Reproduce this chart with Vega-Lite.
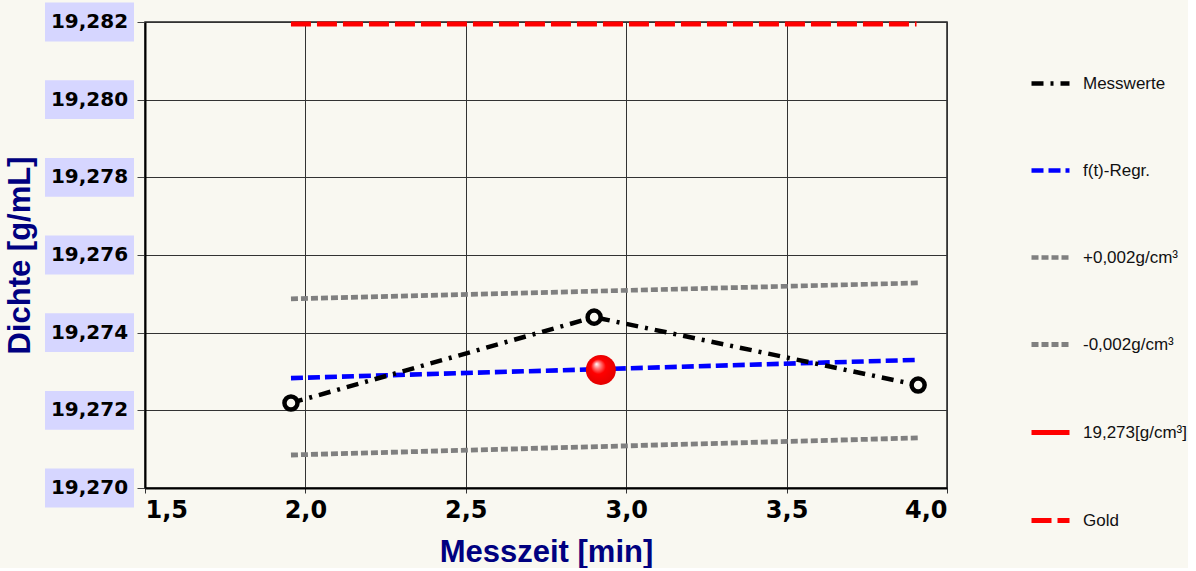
{
  "$schema": "https://vega.github.io/schema/vega-lite/v6.json",
  "background": "#F9F8F1",
  "padding": {"left": 4, "top": 2, "right": 0, "bottom": 0},
  "config": {
    "view": {"stroke": "#222", "strokeWidth": 1.5},
    "font": "Liberation Sans",
    "concat": {"spacing": 1}
  },
  "datasets": {
    "lines": [
      {"series": "-0,002g/cm³", "x": 1.955, "y": 19.27085},
      {"series": "-0,002g/cm³", "x": 3.91, "y": 19.27129},
      {"series": "+0,002g/cm³", "x": 1.955, "y": 19.27487},
      {"series": "+0,002g/cm³", "x": 3.91, "y": 19.27528},
      {"series": "f(t)-Regr.", "x": 1.955, "y": 19.27283},
      {"series": "f(t)-Regr.", "x": 3.91, "y": 19.2733},
      {"series": "Messwerte", "x": 1.955, "y": 19.27219},
      {"series": "Messwerte", "x": 2.9, "y": 19.2744},
      {"series": "Messwerte", "x": 3.91, "y": 19.27265},
      {"series": "Gold", "x": 1.955, "y": 19.28195},
      {"series": "Gold", "x": 3.905, "y": 19.28195}
    ],
    "ball": [
      {"series": "19,273[g/cm³]", "x": 2.921, "y": 19.27304}
    ],
    "ticks": [
      {"v": 19.270, "label": "19,270"},
      {"v": 19.272, "label": "19,272"},
      {"v": 19.274, "label": "19,274"},
      {"v": 19.276, "label": "19,276"},
      {"v": 19.278, "label": "19,278"},
      {"v": 19.280, "label": "19,280"},
      {"v": 19.282, "label": "19,282"}
    ]
  },
  "resolve": {"legend": {"color": "independent", "strokeDash": "independent", "strokeWidth": "independent"}},
  "hconcat": [
    {
      "width": 89,
      "height": 466,
      "view": {"stroke": null},
      "data": {"name": "ticks"},
      "transform": [
        {"calculate": "datum.v - 0.0005", "as": "lo"},
        {"calculate": "datum.v + 0.0005", "as": "hi"}
      ],
      "layer": [
        {
          "mark": {"type": "rect", "color": "#D6D6FF"},
          "encoding": {
            "y": {"field": "lo", "type": "quantitative", "scale": {"domain": [19.270, 19.282], "nice": false, "zero": false},
              "axis": {"title": "Dichte [g/mL]", "labels": false, "ticks": false, "domain": false, "grid": false,
                "titleFont": "Liberation Sans", "titleFontSize": 31, "titleFontWeight": "bold", "titleColor": "#000080", "titlePadding": 9}},
            "y2": {"field": "hi"}
          }
        },
        {
          "mark": {"type": "text", "font": "DejaVu Sans", "fontWeight": "bold", "fontSize": 20, "color": "#000", "align": "center", "baseline": "middle"},
          "encoding": {
            "y": {"field": "v", "type": "quantitative"},
            "text": {"field": "label"}
          }
        }
      ]
    },
    {
      "width": 802,
      "height": 466,
      "layer": [
        {
          "data": {"name": "lines"},
          "mark": {"type": "line"},
          "encoding": {
            "x": {"field": "x", "type": "quantitative", "scale": {"domain": [1.5, 4.0], "nice": false, "zero": false},
              "axis": {"title": "Messzeit [min]", "values": [1.5, 2, 2.5, 3, 3.5, 4],
                "labelExpr": "replace(format(datum.value, '.1f'), '.', ',')",
                "labelFont": "DejaVu Sans", "labelFontWeight": "bold", "labelFontSize": 24, "labelColor": "#000", "labelPadding": 5,
                "tickSize": 5, "tickColor": "#333", "domainColor": "#000", "domainWidth": 2,
                "gridColor": "#333", "gridOpacity": 1, "gridWidth": 1,
                "titleFont": "Liberation Sans", "titleFontSize": 31, "titleFontWeight": "bold", "titleColor": "#000080", "titlePadding": 15}},
            "y": {"field": "y", "type": "quantitative", "scale": {"domain": [19.270, 19.282], "nice": false, "zero": false},
              "axis": {"title": null, "labels": false, "values": [19.270, 19.272, 19.274, 19.276, 19.278, 19.280, 19.282],
                "tickSize": 8, "tickColor": "#444", "domainColor": "#000", "domainWidth": 2,
                "gridColor": "#333", "gridOpacity": 1, "gridWidth": 1}},
            "color": {"field": "series", "type": "nominal",
              "scale": {"domain": ["Messwerte", "f(t)-Regr.", "+0,002g/cm³", "-0,002g/cm³", "19,273[g/cm³]", "Gold"],
                "range": ["#000000", "#0000FF", "#808080", "#808080", "#FF0000", "#FF0000"]},
              "legend": {"orient": "none", "legendX": 884, "legendY": 40, "title": null, "symbolType": "stroke", "symbolSize": 1444,
                "rowPadding": 56, "labelFont": "Liberation Sans", "labelFontSize": 17, "labelColor": "#111", "labelOffset": 11, "padding": 0, "labelLimit": 200}},
            "strokeDash": {"field": "series", "type": "nominal",
              "scale": {"domain": ["Messwerte", "f(t)-Regr.", "+0,002g/cm³", "-0,002g/cm³", "19,273[g/cm³]", "Gold"],
                "range": [[12, 7, 3, 7], [12, 5], [7, 3], [7, 3], [1, 0], [20, 6]]},
              "legend": {"orient": "none", "legendX": 884, "legendY": 40, "title": null, "symbolType": "stroke", "symbolSize": 1444,
                "rowPadding": 56, "labelFont": "Liberation Sans", "labelFontSize": 17, "labelColor": "#111", "labelOffset": 11, "padding": 0, "labelLimit": 200}},
            "strokeWidth": {"field": "series", "type": "nominal",
              "scale": {"domain": ["Messwerte", "f(t)-Regr.", "+0,002g/cm³", "-0,002g/cm³", "19,273[g/cm³]", "Gold"],
                "range": [4.5, 5, 2, 2, 5, 5]},
              "legend": {"orient": "none", "legendX": 884, "legendY": 40, "title": null, "symbolType": "stroke", "symbolSize": 1444,
                "rowPadding": 56, "labelFont": "Liberation Sans", "labelFontSize": 17, "labelColor": "#111", "labelOffset": 11, "padding": 0, "labelLimit": 200}}
          }
        },
        {
          "data": {"name": "lines"},
          "transform": [{"filter": "datum.series == 'Messwerte'"}],
          "mark": {"type": "point", "shape": "circle", "filled": false, "stroke": "#000", "strokeWidth": 4.5, "fill": "#F9F8F1", "fillOpacity": 1, "size": 170, "opacity": 1},
          "encoding": {
            "x": {"field": "x", "type": "quantitative"},
            "y": {"field": "y", "type": "quantitative"}
          }
        },
        {
          "data": {"name": "ball"},
          "mark": {"type": "point", "shape": "circle", "filled": true, "size": 900, "opacity": 1, "strokeWidth": 0,
            "fill": {"gradient": "radial", "x1": 0.35, "y1": 0.3, "r1": 0, "x2": 0.5, "y2": 0.5, "r2": 0.55,
              "stops": [{"offset": 0, "color": "#ffffff"}, {"offset": 0.2, "color": "#ff8080"}, {"offset": 0.45, "color": "#ff0000"}, {"offset": 1, "color": "#e00000"}]}},
          "encoding": {
            "x": {"field": "x", "type": "quantitative"},
            "y": {"field": "y", "type": "quantitative"}
          }
        }
      ]
    }
  ]
}
